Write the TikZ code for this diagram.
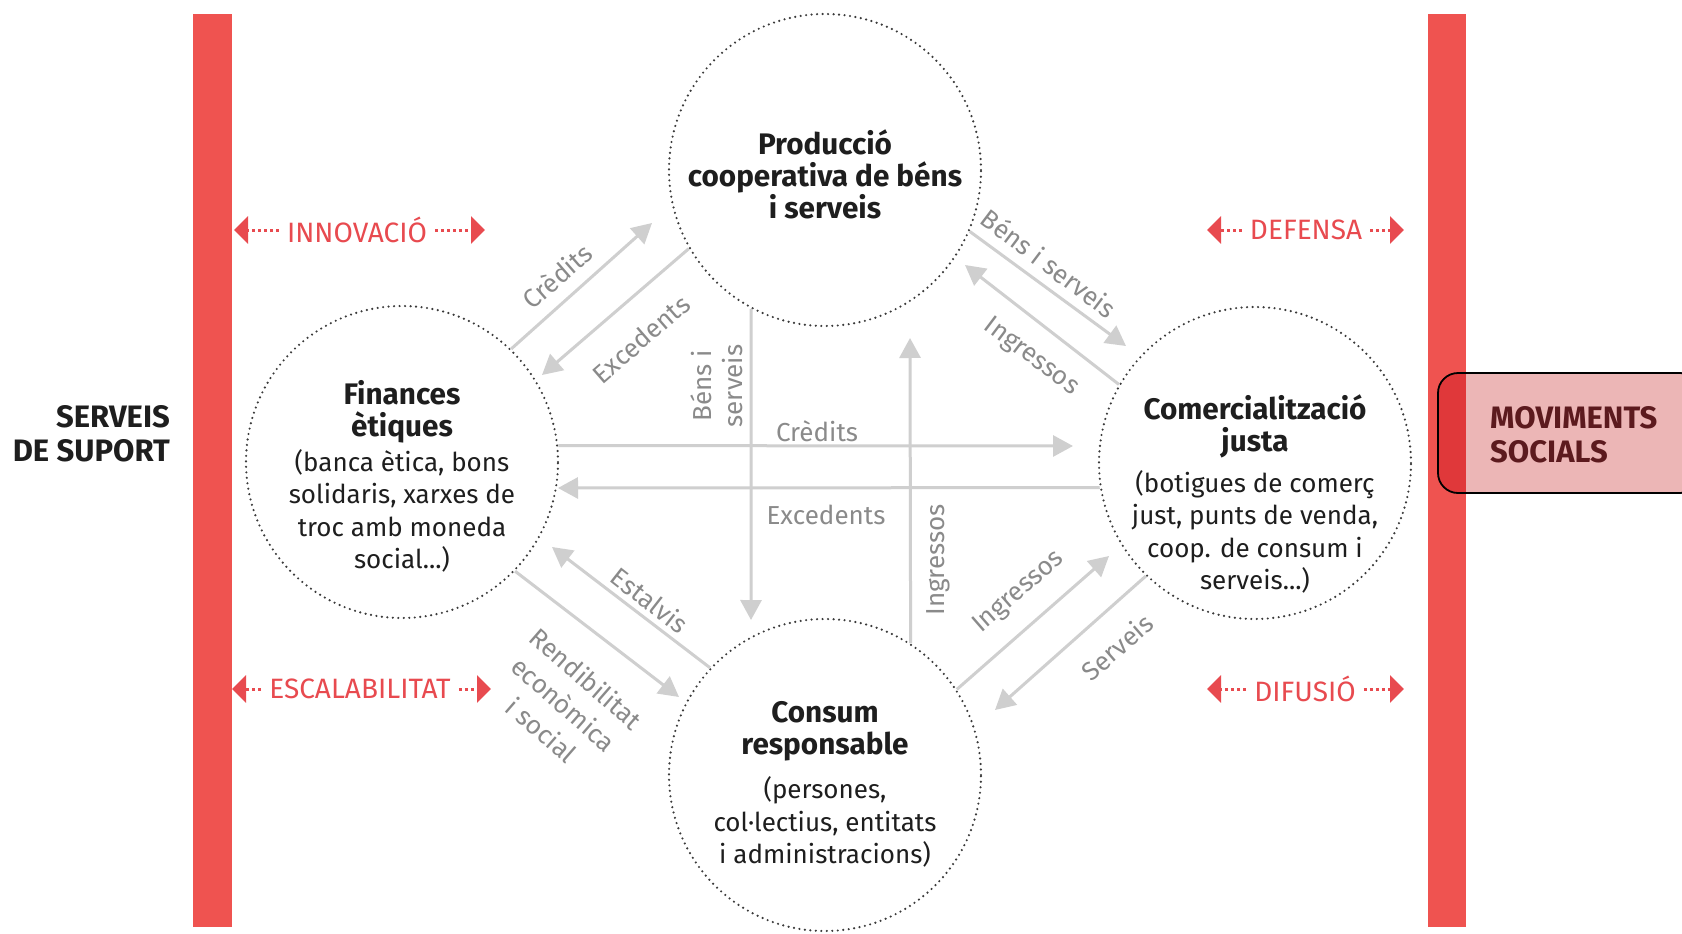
\documentclass[tikz,border=0pt]{standalone}
\usepackage{fontspec}
\setmainfont{Fira Sans}
\usetikzlibrary{arrows.meta}
\definecolor{redbar}{HTML}{EF5350}
\definecolor{labelred}{HTML}{E84A4F}
\definecolor{pinkbox}{HTML}{ECB6B6}
\definecolor{overlapred}{HTML}{E0383A}
\definecolor{darktext}{HTML}{1E1E1E}
\definecolor{movtext}{HTML}{5C1A1E}
\definecolor{arrowgray}{HTML}{CFCFCF}
\definecolor{labelgray}{HTML}{8A8A8A}
\definecolor{dotgray}{HTML}{3A3A3A}
\begin{document}
\begin{tikzpicture}[x=1pt,y=-1pt,
  bigcircle/.style={circle, draw=dotgray, line width=2.4pt, dash pattern=on 0pt off 5.5pt, line cap=round, minimum size=312pt, inner sep=0pt},
  titletxt/.style={align=center, text=darktext, inner sep=0pt, font=\bfseries\fontsize{29.7}{32}\selectfont},
  bodytxt/.style={align=center, text=darktext, inner sep=0pt, font=\fontsize{26}{32.5}\selectfont},
  sidetxt/.style={inner sep=0pt, font=\bfseries\fontsize{31}{34}\selectfont},
  redlbl/.style={text=labelred, inner sep=8pt, font=\fontsize{28}{30}\selectfont},
  redarrow/.style={draw=labelred, line width=3pt, dash pattern=on 3pt off 3pt, -{Triangle[length=14pt,width=27pt]}},
  grayarrow/.style={draw=arrowgray, line width=3pt, -{Triangle[length=20pt,width=21pt]}},
  graylbl/.style={text=labelgray, inner sep=0pt, font=\fontsize{26}{31}\selectfont}
]
\useasboundingbox (0,0) rectangle (1682,934);
\fill[white] (0,0) rectangle (1682,934);

% side bars
\fill[redbar] (193,14) rectangle (232,927);
\fill[redbar] (1428,14) rectangle (1466,927);

% movements box
\fill[pinkbox, rounded corners=20pt] (1438,373) rectangle (1700,493);
\begin{scope}
  \clip[rounded corners=20pt] (1438,373) rectangle (1700,493);
  \fill[overlapred] (1428,373) rectangle (1466,493);
\end{scope}
\draw[black, line width=1.8pt, rounded corners=20pt] (1438,373) rectangle (1700,493);
\node[sidetxt, text=movtext, align=left, anchor=west] (mov) at (1490,435) {MOVIMENTS\\SOCIALS};

\node[sidetxt, text=darktext, align=right, anchor=east] (sup) at (170,434) {SERVEIS\\DE SUPORT};

% circles
\node[bigcircle] (prod) at (825,170) {};
\node[bigcircle] (fin) at (402,462) {};
\node[bigcircle] (com) at (1255,463) {};
\node[bigcircle] (cons) at (825,775) {};

\node[titletxt] (prodt) at (825,174) {Producció\\cooperativa de béns\\i serveis};
\node[titletxt] (fint) at (402,412) {Finances\\ètiques};
\node[bodytxt] (finb) at (402,511) {(banca ètica, bons\\solidaris, xarxes de\\troc amb moneda\\social...)};
\node[titletxt] (comt) at (1255,426) {Comercialització\\justa};
\node[bodytxt] (comb) at (1255,532) {(botigues de comerç\\just, punts de venda,\\coop. de consum i\\serveis...)};
\node[titletxt] (const) at (825,731) {Consum\\responsable};
\node[bodytxt] (consb) at (825,822) {(persones,\\col·lectius, entitats\\i administracions)};

% red labels
\node[redlbl] (innov) at (357,230) {INNOVACIÓ};
\coordinate (innovL) at (234,230);
\coordinate (innovR) at (485,230);
\draw[redarrow] (innov.west) -- (innovL);
\draw[redarrow] (innov.east) -- (innovR);

\node[redlbl] (def) at (1306,230) {DEFENSA};
\coordinate (defL) at (1207,230);
\coordinate (defR) at (1404,230);
\draw[redarrow] (def.west) -- (defL);
\draw[redarrow] (def.east) -- (defR);

\node[redlbl] (esc) at (360,689) {ESCALABILITAT};
\coordinate (escL) at (232,689);
\coordinate (escR) at (491,689);
\draw[redarrow] (esc.west) -- (escL);
\draw[redarrow] (esc.east) -- (escR);

\node[redlbl] (dif) at (1305,689) {DIFUSIÓ};
\coordinate (difL) at (1207,689);
\coordinate (difR) at (1404,689);
\draw[redarrow] (dif.west) -- (difL);
\draw[redarrow] (dif.east) -- (difR);

% gray arrow tips
\coordinate (t1) at (652,223);
\coordinate (t2) at (542,375);
\coordinate (t3) at (1126,346);
\coordinate (t4) at (965,265);
\coordinate (t5) at (1073,446);
\coordinate (t6) at (558,488);
\coordinate (t7) at (751,620);
\coordinate (t8) at (910,338);
\coordinate (t9) at (552,547);
\coordinate (t10) at (679,697);
\coordinate (t11) at (1109,556);
\coordinate (t12) at (995,710);

\draw[grayarrow] (fin.46) -- (t1);
\draw[grayarrow] (prod.210) -- (t2);
\draw[grayarrow] (prod.-23) -- (t3);
\draw[grayarrow] (com.150) -- (t4);
\draw[grayarrow] (fin.6) -- (t5);
\draw[grayarrow] (com.189) -- (t6);
\draw[grayarrow] (prod.242) -- (t7);
\draw[grayarrow] (cons.57) -- (t8);
\draw[grayarrow] (cons.137) -- (t9);
\draw[grayarrow] (fin.-44) -- (t10);
\draw[grayarrow] (cons.33) -- (t11);
\draw[grayarrow] (com.226) -- (t12);

% gray labels
\node[graylbl, rotate=41] (l1) at (557,276) {Crèdits};
\node[graylbl, rotate=41] (l2) at (641,339) {Excedents};
\node[graylbl, rotate=-37] (l3) at (1049,263) {Béns i serveis};
\node[graylbl, rotate=-37] (l4) at (1031,357) {Ingressos};
\node[graylbl] (l5) at (817,431) {Crèdits};
\node[graylbl] (l6) at (826,515) {Excedents};
\node[graylbl, rotate=90, align=center] (l7) at (717,386) {Béns i\\serveis};
\node[graylbl, rotate=90] (l8) at (938,560) {Ingressos};
\node[graylbl, rotate=-38] (l9) at (650,600) {Estalvis};
\node[graylbl, rotate=-41, align=center, font=\fontsize{26}{34}\selectfont] (l10) at (564,704) {Rendibilitat\\econòmica\\i social};
\node[graylbl, rotate=41] (l11) at (1019,592) {Ingressos};
\node[graylbl, rotate=41] (l12) at (1117,647) {Serveis};
\end{tikzpicture}
\end{document}
